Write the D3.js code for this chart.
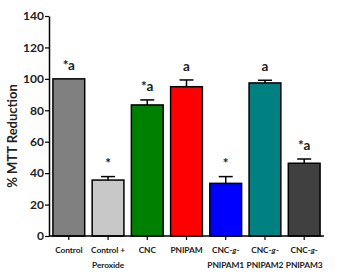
<!DOCTYPE html>
<html><head><meta charset="utf-8">
<script src="https://cdn.jsdelivr.net/npm/d3@7"></script>
<style>
html,body{margin:0;padding:0;background:#fff;}
svg text{font-family:Lato,"Liberation Sans",sans-serif;font-weight:700;fill:#222;}
</style></head>
<body><div id="chart"></div>
<script>
const categories = ["Control", "Control + Peroxide", "CNC", "PNIPAM", "CNC-g-PNIPAM1", "CNC-g-PNIPAM2", "CNC-g-PNIPAM3"];
const labelLines = [["Control"], ["Control +", "Peroxide"], ["CNC"], ["PNIPAM"], ["CNC-g-", "PNIPAM1"], ["CNC-g-", "PNIPAM2"], ["CNC-g-", "PNIPAM3"]];
const values = [100, 35.6, 83.4, 95, 33.5, 97.4, 46.3];
const errors = [0, 2.2, 3.2, 4.3, 4.3, 1.7, 2.7];
const marks = ["*a", "*", "*a", "a", "*", "a", "*a"];
const colors = ["#808080", "#c8c8c8", "#008000", "#ff0000", "#0000ff", "#008080", "#404040"];
const yTicks = [0, 20, 40, 60, 80, 100, 120, 140];

const W = 339, H = 278;
const m = {left: 49, right: 15, top: 16, bottom: 42};
const svg = d3.select("#chart").append("svg").attr("width", W).attr("height", H);

const x = d3.scaleBand().domain(categories).range([m.left, W - m.right]).paddingInner(0.19).paddingOuter(0.1);
const y = d3.scaleLinear().domain([0, 140]).range([H - m.bottom, m.top]);

const g = svg.append("g");
g.selectAll("rect.bar").data(categories).join("rect")
  .attr("class", "bar")
  .attr("x", d => x(d)).attr("width", x.bandwidth())
  .attr("y", (d, i) => y(values[i])).attr("height", (d, i) => y(0) - y(values[i]))
  .attr("fill", (d, i) => colors[i]).attr("stroke", "#000").attr("stroke-width", 1.5);

const capW = 14;
categories.forEach((c, i) => {
  if (!errors[i]) return;
  const cx = x(c) + x.bandwidth() / 2;
  g.append("line").attr("x1", cx).attr("x2", cx).attr("y1", y(values[i])).attr("y2", y(values[i] + errors[i]))
    .attr("stroke", "#000").attr("stroke-width", 1.5);
  g.append("line").attr("x1", cx - capW / 2).attr("x2", cx + capW / 2).attr("y1", y(values[i] + errors[i])).attr("y2", y(values[i] + errors[i]))
    .attr("stroke", "#000").attr("stroke-width", 1.5);
});

g.selectAll("text.mark").data(categories).join("text")
  .attr("class", "mark")
  .attr("x", d => x(d) + x.bandwidth() / 2)
  .attr("y", (d, i) => y(values[i] + errors[i]) - 9)
  .attr("text-anchor", "middle").attr("font-size", 13.5)
  .text((d, i) => marks[i]);

const yAxis = svg.append("g").attr("transform", `translate(${m.left},0)`)
  .call(d3.axisLeft(y).tickValues(yTicks).tickSize(4).tickSizeOuter(0));
yAxis.select(".domain").attr("stroke", "#000").attr("stroke-width", 1.5);
yAxis.selectAll(".tick line").attr("stroke", "#000").attr("stroke-width", 1.2);
yAxis.selectAll(".tick text").attr("font-size", 12).attr("font-family", "Lato,sans-serif").attr("font-weight", 700).attr("fill", "#222").attr("x", -5);

const xAxis = svg.append("g").attr("transform", `translate(0,${y(0)})`)
  .call(d3.axisBottom(x).tickSize(4).tickSizeOuter(0).tickFormat(""));
xAxis.select(".domain").attr("stroke", "#000").attr("stroke-width", 1.5)
  .attr("d", `M${m.left},0H${W - m.right}`);
xAxis.selectAll(".tick line").attr("stroke", "#000").attr("stroke-width", 1.2);

categories.forEach((c, i) => {
  const cx = x(c) + x.bandwidth() / 2;
  labelLines[i].forEach((line, j) => {
    const t = svg.append("text").attr("x", cx).attr("y", y(0) + 17 + j * 15)
      .attr("text-anchor", "middle").attr("font-size", 8.4).attr("letter-spacing", -0.1);
    const parts = line.split(/(-g-)/);
    parts.forEach(p => {
      if (p === "-g-") {
        t.append("tspan").text("-");
        t.append("tspan").attr("font-style", "italic").text("g");
        t.append("tspan").text("-");
      } else if (p) {
        t.append("tspan").text(p);
      }
    });
  });
});

svg.append("text").attr("transform", `translate(17,${(y(0) + y(140)) / 2 + 10}) rotate(-90)`)
  .attr("text-anchor", "middle").attr("font-size", 13).text("% MTT Reduction");
</script></body></html>
